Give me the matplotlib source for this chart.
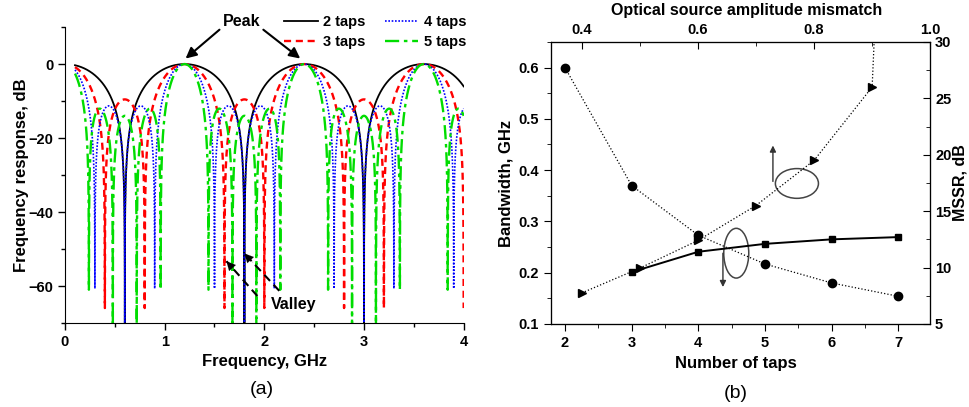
import numpy as np
import matplotlib.pyplot as plt
from matplotlib.patches import Ellipse
from matplotlib.ticker import MultipleLocator

plt.rcParams['font.family'] = ['Liberation Sans', 'DejaVu Sans']
plt.rcParams['font.weight'] = 'bold'
plt.rcParams['axes.labelweight'] = 'bold'

# (a) uniform N-tap filter responses
taps_a = [2, 3, 4, 5]
labels_a = ['2 taps', '3 taps', '4 taps', '5 taps']
fsr_ghz = 1.2
f_start, f_stop = 0.1, 4.0

# (b) bandwidth and MSSR vs number of taps
taps_bw = [2, 3, 4, 5, 6, 7]
bw_ghz = [0.600, 0.370, 0.273, 0.217, 0.180, 0.154]
taps_sq = [3, 4, 5, 6, 7]
mssr_taps = [9.6, 11.4, 12.1, 12.5, 12.7]
# MSSR vs optical source amplitude mismatch (last point is off the top)
mismatch = [0.4, 0.5, 0.6, 0.7, 0.8, 0.9, 0.95]
mssr_mis = [7.75, 9.95, 12.4, 15.5, 19.5, 26.0, 85.0]

fig = plt.figure(figsize=(9.7, 4.07), dpi=100)


def bold_ticks(a):
    for lab in a.get_xticklabels() + a.get_yticklabels():
        lab.set_fontweight('bold')


# ---------------- (a)
ax = fig.add_axes([0.067, 0.2064, 0.411, 0.727])
step = 0.6 / 1201
f = np.arange(0, int(round(f_stop / step)) + 1) * step
f = f[f >= f_start]
styles = [dict(color='k', ls='-', lw=1.3),
          dict(color='#ff0000', ls=(0, (3, 2)), lw=1.7),
          dict(color='#0000ff', ls=(0, (1, 1)), lw=1.2),
          dict(color='#00dd00', ls=(0, (6, 2, 1.5, 2)), lw=1.7)]
for n, lab, st in zip(taps_a, labels_a, styles):
    k = np.arange(n)
    h = np.abs(np.exp(-2j * np.pi * np.outer(f, k) / fsr_ghz).sum(axis=1)) / n
    ax.plot(f, 20 * np.log10(h + 1e-15), label=lab, **st)

ax.set_xlim(0, 4)
ax.set_ylim(-70, 10)
ax.xaxis.set_major_locator(MultipleLocator(1))
ax.xaxis.set_minor_locator(MultipleLocator(0.5))
ax.set_yticks([-60, -40, -20, 0])
ax.yaxis.set_minor_locator(MultipleLocator(10))
ax.spines['top'].set_visible(False)
ax.spines['right'].set_visible(False)
ax.tick_params(which='both', direction='out', labelsize=10.5, width=1)
ax.tick_params(which='major', length=5)
ax.tick_params(which='minor', length=3)
bold_ticks(ax)
ax.set_xlabel('Frequency, GHz', fontsize=12)
ax.set_ylabel('Frequency response, dB', fontsize=12)
ax.xaxis.set_label_coords(0.5, -0.105)
ax.yaxis.set_label_coords(-0.09, 0.5)

ax.legend(ncol=2, frameon=False, fontsize=10.5, handlelength=2.3,
          columnspacing=1.3, labelspacing=0.4, handletextpad=0.4,
          loc='upper right', bbox_to_anchor=(0.49, 0.985),
          bbox_transform=fig.transFigure, borderaxespad=0.2)

ax.text(1.77, 11.5, 'Peak', ha='center', va='center', fontsize=11.5,
        clip_on=False)
for tip, tail in [((1.21, 1.5), (1.55, 9.3)), ((2.36, 1.5), (1.99, 9.3))]:
    ax.annotate('', xy=tip, xytext=tail, annotation_clip=False,
                arrowprops=dict(arrowstyle='-|>', color='k', lw=1.5,
                                mutation_scale=16, shrinkA=0, shrinkB=0))
for tip, tail in [((1.62, -53.3), (1.93, -62.7)), ((1.80, -51.2), (2.15, -61.3))]:
    ax.plot([tail[0], tip[0]], [tail[1], tip[1]], color='k', lw=1.5,
            ls=(0, (4, 2.5)))
    mid = (tip[0] + 0.25 * (tail[0] - tip[0]), tip[1] + 0.25 * (tail[1] - tip[1]))
    ax.annotate('', xy=tip, xytext=mid,
                arrowprops=dict(arrowstyle='-|>', color='k', lw=0.1,
                                mutation_scale=16, shrinkA=0, shrinkB=0))
ax.text(2.29, -65, 'Valley', ha='center', va='center', fontsize=11.5)

# ---------------- (b)
axb = fig.add_axes([0.568, 0.204, 0.391, 0.693])
axr = axb.twinx()
axt = axr.twiny()

axb.plot(taps_bw, bw_ghz, ls=':', color='k', lw=0.9, marker='o', ms=6)
axr.plot(taps_sq, mssr_taps, ls='-', color='k', lw=1.4, marker='s', ms=5)
axt.plot(mismatch, mssr_mis, ls=':', color='k', lw=0.9, marker='>', ms=6)

axb.set_xlim(1.79, 7.48)
axb.set_ylim(0.1, 0.65)
axr.set_ylim(5, 30)
axt.set_xlim(0.347, 1.0)

axb.xaxis.set_major_locator(MultipleLocator(1))
axb.xaxis.set_minor_locator(MultipleLocator(0.5))
axb.set_yticks([0.1, 0.2, 0.3, 0.4, 0.5, 0.6])
axb.yaxis.set_minor_locator(MultipleLocator(0.05))
axr.set_yticks([5, 10, 15, 20, 25, 30])
axr.yaxis.set_minor_locator(MultipleLocator(2.5))
axt.set_xticks([0.4, 0.6, 0.8, 1.0])
axt.xaxis.set_minor_locator(MultipleLocator(0.1))

axb.tick_params(which='both', direction='out', labelsize=10.5)
axr.tick_params(which='both', direction='in', labelsize=10.5)
axt.tick_params(which='both', direction='in', labelsize=10.5)
for a in (axb, axr, axt):
    a.tick_params(which='major', length=5)
    a.tick_params(which='minor', length=3)
    bold_ticks(a)

axb.set_xlabel('Number of taps', fontsize=12)
axb.set_ylabel('Bandwidth, GHz', fontsize=12)
axr.set_ylabel('MSSR, dB', fontsize=11.5)
axt.set_xlabel('Optical source amplitude mismatch', fontsize=11.5)
axb.xaxis.set_label_coords(0.487, -0.113)
axb.yaxis.set_label_coords(-0.10, 0.5)
axr.yaxis.set_label_coords(1.06, 0.5)
axt.xaxis.set_label_coords(0.517, 1.095)

for c, w, h in [((5.48, 0.374), 0.646, 0.058), ((4.57, 0.238), 0.375, 0.097)]:
    axb.add_patch(Ellipse(c, w, h, fill=False, ec='#444444', lw=1.1))
axb.annotate('', xy=(5.12, 0.448), xytext=(5.12, 0.378),
             arrowprops=dict(arrowstyle='-|>', color='#333333', lw=1,
                             mutation_scale=9, shrinkA=0, shrinkB=0))
axb.annotate('', xy=(4.37, 0.172), xytext=(4.37, 0.238),
             arrowprops=dict(arrowstyle='-|>', color='#333333', lw=1,
                             mutation_scale=9, shrinkA=0, shrinkB=0))

fig.text(0.27, 0.042, '(a)', ha='center', va='center', fontsize=14,
         fontweight='normal')
fig.text(0.759, 0.034, '(b)', ha='center', va='center', fontsize=14,
         fontweight='normal')

fig.savefig('out.png', dpi=100)
